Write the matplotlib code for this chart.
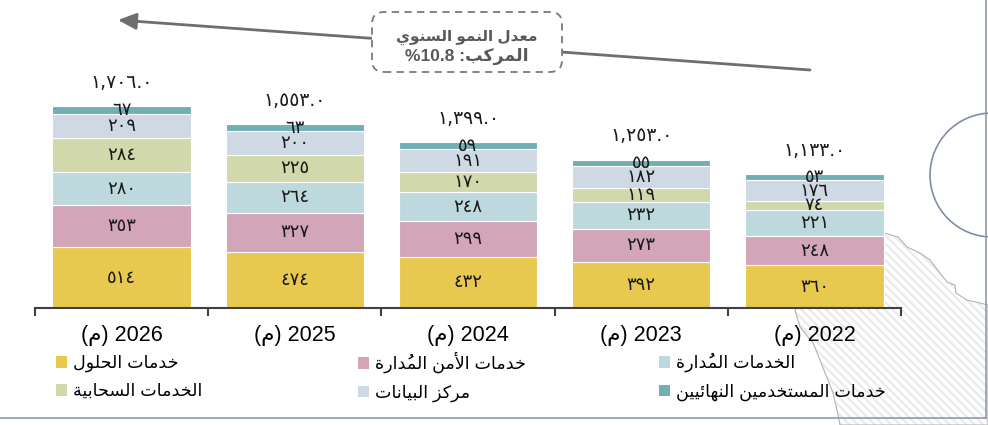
import numpy as np
import matplotlib
matplotlib.use("Agg")
import matplotlib.pyplot as plt
from matplotlib.patches import FancyBboxPatch, FancyArrowPatch, Polygon, Circle, Patch
from matplotlib.lines import Line2D

plt.rcParams['font.family'] = ['Liberation Sans', 'DejaVu Sans']

# data (millions), 2022 -> 2026
years = [2022, 2023, 2024, 2025, 2026]
solutions = [360, 392, 432, 474, 514]
managed_security = [248, 273, 299, 327, 353]
managed_services = [221, 232, 248, 264, 280]
cloud = [74, 119, 170, 225, 284]
data_center = [176, 182, 191, 200, 209]
end_user = [53, 55, 59, 63, 67]
totals = [1133.0, 1253.0, 1399.0, 1553.0, 1706.0]
cagr = 10.8

series_names = ["خدمات الحلول", "خدمات الأمن المُدارة", "الخدمات المُدارة",
                "الخدمات السحابية", "مركز البيانات", "خدمات المستخدمين النهائيين"]
colors = ['#E8C950', '#D3A5B9', '#BED9DE', '#D1D8AB', '#CED9E3', '#71AFB6']

# --- minimal arabic shaping (no reshaper lib available) ---
FORMS = {
    '\u0627': ('\uFE8D', '\uFE8E', None, None),
    '\u0623': ('\uFE83', '\uFE84', None, None),
    '\u0628': ('\uFE8F', '\uFE90', '\uFE91', '\uFE92'),
    '\u0629': ('\uFE93', '\uFE94', None, None),
    '\u062A': ('\uFE95', '\uFE96', '\uFE97', '\uFE98'),
    '\u062D': ('\uFEA1', '\uFEA2', '\uFEA3', '\uFEA4'),
    '\u062E': ('\uFEA5', '\uFEA6', '\uFEA7', '\uFEA8'),
    '\u062F': ('\uFEA9', '\uFEAA', None, None),
    '\u0631': ('\uFEAD', '\uFEAE', None, None),
    '\u0632': ('\uFEAF', '\uFEB0', None, None),
    '\u0633': ('\uFEB1', '\uFEB2', '\uFEB3', '\uFEB4'),
    '\u0639': ('\uFEC9', '\uFECA', '\uFECB', '\uFECC'),
    '\u0643': ('\uFED9', '\uFEDA', '\uFEDB', '\uFEDC'),
    '\u0644': ('\uFEDD', '\uFEDE', '\uFEDF', '\uFEE0'),
    '\u0645': ('\uFEE1', '\uFEE2', '\uFEE3', '\uFEE4'),
    '\u0646': ('\uFEE5', '\uFEE6', '\uFEE7', '\uFEE8'),
    '\u0647': ('\uFEE9', '\uFEEA', '\uFEEB', '\uFEEC'),
    '\u0648': ('\uFEED', '\uFEEE', None, None),
    '\u064A': ('\uFEF1', '\uFEF2', '\uFEF3', '\uFEF4'),
    '\u0626': ('\uFE89', '\uFE8A', '\uFE8B', '\uFE8C'),
}
LAM_ALEF = {'\u0627': ('\uFEFB', '\uFEFC'), '\u0623': ('\uFEF7', '\uFEF8')}
MARKS = {'\u064F'}


def shape(text):
    chars = list(text)
    n = len(chars)

    def joins_fwd(c):
        return c in FORMS and FORMS[c][2] is not None

    def neighbour(i, step):
        j = i + step
        while 0 <= j < n and chars[j] in MARKS:
            j += step
        return chars[j] if 0 <= j < n else ''

    out = []
    i = 0
    while i < n:
        c = chars[i]
        if c not in FORMS:
            out.append(c)
            i += 1
            continue
        back = joins_fwd(neighbour(i, -1))
        after = neighbour(i, 1)
        if c == '\u0644' and after in LAM_ALEF:
            out.append(LAM_ALEF[after][1 if back else 0])
            i += 2
            continue
        fwd = joins_fwd(c) and after in FORMS
        iso, fin, ini, med = FORMS[c]
        out.append(med if back and fwd else fin if back else ini if fwd else iso)
        i += 1
    return out


def rtl(text):
    clusters = []
    for g in shape(text):
        if g in MARKS and clusters:
            clusters[-1] = g + clusters[-1]   # mark drawn first so it sits on its base
        else:
            clusters.append(g)
    return ''.join(reversed(clusters))


def ar_digits(s):
    return s.translate(str.maketrans('0123456789', '٠١٢٣٤٥٦٧٨٩'))


W, H = 988, 425


def fx(px):
    return px / W


def fy(py):
    return 1 - py / H


fig = plt.figure(figsize=(9.88, 4.25), dpi=100)

# background decorations of the infographic
inch = fig.dpi_scale_trans
map_px = [(884, 233), (898, 237), (907, 247), (920, 253), (930, 260), (940, 273),
          (947, 282), (955, 285), (956, 293), (967, 300), (988, 305), (988, 425),
          (840, 425), (837, 410), (833, 393), (820, 360), (813, 343), (800, 327),
          (795, 310), (850, 250)]
map_in = [(x / 100, (H - y) / 100) for x, y in map_px]
plt.rcParams['hatch.linewidth'] = 1.5
fig.add_artist(Polygon(map_in, closed=True, transform=inch, facecolor='none',
                       edgecolor='#EAEAEA', hatch='\\\\\\\\', lw=0, zorder=-2))
fig.add_artist(Polygon(map_in, closed=True, transform=inch, facecolor='none',
                       edgecolor='#B4B4B4', lw=0.8, zorder=-1))
fig.add_artist(Circle((9.92, (H - 175) / 100), 0.62, transform=inch, fill=False,
                      ec='#7F8EA8', lw=1.2, zorder=-1))
fig.add_artist(Line2D([0, fx(986)], [fy(418)] * 2, color='#8D9AB0', lw=1.2))
fig.add_artist(Line2D([fx(986)] * 2, [fy(418), 1], color='#8D9AB0', lw=1.2))

ax = fig.add_axes([fx(35), fy(308), fx(901) - fx(35), 237 / H])
ax.set_facecolor('none')

num_font = ['DejaVu Sans']
x = np.arange(len(years))
bottom = np.zeros(len(years))
series = [solutions, managed_security, managed_services, cloud, data_center, end_user]
for vals, col in zip(series, colors):
    bars = ax.bar(x, vals, 0.8, bottom=bottom, color=col, edgecolor='white', linewidth=0.8)
    ax.bar_label(bars, labels=[ar_digits(str(v)) for v in vals], label_type='center',
                 fontsize=13, color='#1a1a1a', family=num_font)
    bottom += vals

for xi, t, top in zip(x, totals, bottom):
    ax.annotate(ar_digits(f"{t:,.1f}"), (xi, top), xytext=(0, 17), textcoords='offset points',
                ha='center', va='center', fontsize=13.5, color='#1a1a1a', family=num_font)

ax.set_xlim(4.5, -0.5)
ax.set_ylim(0, 2000)
ax.set_xticks(np.arange(-0.5, 5, 1))
ax.set_xticklabels([])
ax.tick_params(axis='x', which='major', direction='out', length=6, width=1.5, color='#404040')
ax.set_xticks(x, [f"(م) {y}" for y in years], minor=True)
ax.tick_params(axis='x', which='minor', length=0, pad=12, labelsize=15.5)
ax.set_yticks([])
for s in ['top', 'left', 'right']:
    ax.spines[s].set_visible(False)
ax.spines['bottom'].set_color('#404040')
ax.spines['bottom'].set_linewidth(1.5)

# legend: three columns, two rows
handles = [Patch(facecolor=c) for c in colors]
for left, idx in [(56, [0, 3]), (358, [1, 4]), (659, [2, 5])]:
    fig.legend([handles[i] for i in idx], [rtl(series_names[i]) for i in idx],
               loc='center left', bbox_to_anchor=(fx(left), fy(377)), frameon=False,
               fontsize=12.6, handlelength=0.65, handleheight=0.65, handletextpad=0.3,
               labelspacing=0.65, borderpad=0, borderaxespad=0)

# CAGR call-out
fig.add_artist(FancyArrowPatch((8.10, (H - 70) / 100), (1.18, (H - 20) / 100), transform=inch,
                               arrowstyle='-|>,head_length=1.1,head_width=0.5', mutation_scale=10,
                               color='#6E6E6E', lw=2, shrinkA=0, shrinkB=0, zorder=5))
fig.add_artist(FancyBboxPatch((3.72, (H - 72) / 100), 1.90, 0.60,
                              boxstyle='round,pad=0,rounding_size=0.12', transform=inch,
                              fc='white', ec='#7A7A7A', lw=1.3, ls=(0, (4, 3)), zorder=6))
fig.text(fx(467), fy(37), rtl("معدل النمو السنوي"), ha='center', va='center',
         fontsize=11, fontweight='bold', color='#595959', zorder=7)
fig.text(fx(467), fy(56), f"%{cagr} " + rtl("المركب:"), ha='center', va='center',
         fontsize=12.5, fontweight='bold', color='#595959', zorder=7)

fig.savefig("out.png", dpi=100)
